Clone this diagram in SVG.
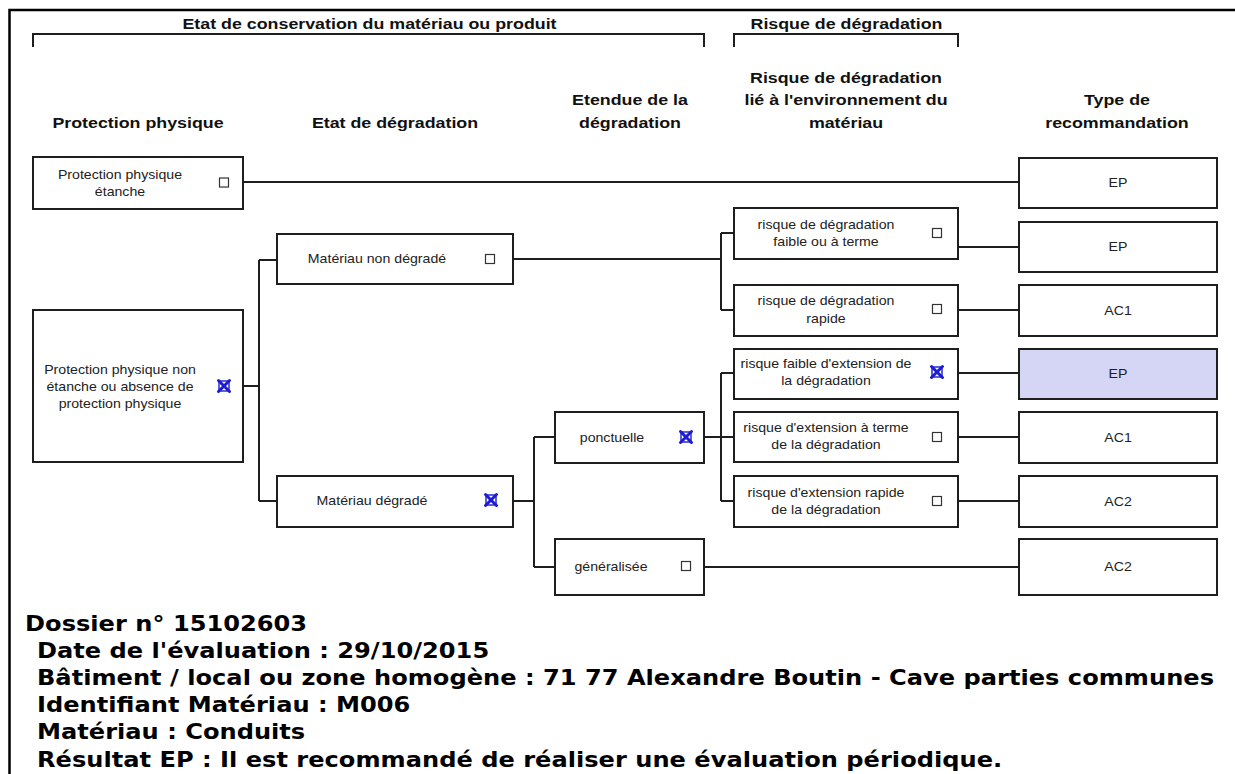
<svg xmlns="http://www.w3.org/2000/svg" width="1235" height="774" viewBox="0 0 1235 774">
<style>
.box{fill:#fff;stroke:#1e1e1e;stroke-width:2}
.sel{fill:#d5d5f6;stroke:#1e1e1e;stroke-width:2}
.ln{fill:none;stroke:#1e1e1e;stroke-width:2}
.frame{fill:none;stroke:#000;stroke-width:2.5}
.h{font-family:"Liberation Sans",Arial,sans-serif;font-weight:bold;font-size:15.5px;fill:#111;text-anchor:middle}
.t{font-family:"Liberation Sans",Arial,sans-serif;font-size:12.3px;fill:#222;text-anchor:middle}
.f{font-family:"DejaVu Sans",Verdana,sans-serif;font-weight:bold;font-size:21px;fill:#000}
.cb{fill:#fff;stroke:#333;stroke-width:1.2}
.xb{fill:none;stroke:#1c1cd0;stroke-width:1.4}
.xx{fill:none;stroke:#1c1cd0;stroke-width:3;stroke-linecap:round}
</style>
<defs>
<g id="chk"><rect class="cb" x="-4.5" y="-4.5" width="9" height="9"/></g>
<g id="xck"><rect class="xb" x="-5" y="-5" width="10" height="10"/><path class="xx" d="M-5.5,-5.5 L5.5,5.5 M5.5,-5.5 L-5.5,5.5"/></g>
</defs>

<g id="frame">
<path class="frame" d="M9.5,774 V10 H1235"/>
<path class="ln" d="M33,47 V34 H704 V47"/>
<path class="ln" d="M734,47 V34 H958 V47"/>
</g>

<g id="headers">
<text class="h" transform="matrix(1.15 0 0 1 369.5 0)" x="0" y="29">Etat de conservation du matériau ou produit</text>
<text class="h" transform="matrix(1.15 0 0 1 846.5 0)" x="0" y="29">Risque de dégradation</text>
<text class="h" transform="matrix(1.15 0 0 1 138 0)" x="0" y="128">Protection physique</text>
<text class="h" transform="matrix(1.15 0 0 1 395 0)" x="0" y="128">Etat de dégradation</text>
<text class="h" transform="matrix(1.15 0 0 1 630 0)" x="0" y="105">Etendue de la</text>
<text class="h" transform="matrix(1.15 0 0 1 630 0)" x="0" y="128">dégradation</text>
<text class="h" transform="matrix(1.15 0 0 1 846 0)" x="0" y="83">Risque de dégradation</text>
<text class="h" transform="matrix(1.15 0 0 1 846 0)" x="0" y="105">lié à l'environnement du</text>
<text class="h" transform="matrix(1.15 0 0 1 846 0)" x="0" y="128">matériau</text>
<text class="h" transform="matrix(1.15 0 0 1 1117 0)" x="0" y="105">Type de</text>
<text class="h" transform="matrix(1.15 0 0 1 1117 0)" x="0" y="128">recommandation</text>
</g>

<g id="connectors">
<path class="ln" d="M243,182 H1019"/>
<path class="ln" d="M243,386 H259 M259,260 V501 M259,260 H277 M259,501 H277"/>
<path class="ln" d="M513,259 H721 M721,233 V310 M721,233 H734 M721,310 H734"/>
<path class="ln" d="M958,247 H1019 M958,310 H1019 M958,373 H1019 M958,437 H1019 M958,501 H1019"/>
<path class="ln" d="M513,501 H534 M534,437 V567 M534,437 H555 M534,567 H555"/>
<path class="ln" d="M704,437 H721 M721,373 V501 M721,373 H734 M721,437 H734 M721,501 H734"/>
<path class="ln" d="M704,567 H1019"/>
</g>

<g id="n-pp-etanche">
<rect class="box" x="33" y="157" width="210" height="52"/>
<text class="t" transform="matrix(1.15 0 0 1 120 0)" x="0" y="179">Protection physique</text>
<text class="t" transform="matrix(1.15 0 0 1 120 0)" x="0" y="196">étanche</text>
<use href="#chk" x="224" y="182.5"/>
</g>

<g id="n-pp-non-etanche">
<rect class="box" x="33" y="310" width="210" height="152"/>
<text class="t" transform="matrix(1.15 0 0 1 120 0)" x="0" y="374">Protection physique non</text>
<text class="t" transform="matrix(1.15 0 0 1 120 0)" x="0" y="391">étanche ou absence de</text>
<text class="t" transform="matrix(1.15 0 0 1 120 0)" x="0" y="408">protection physique</text>
<use href="#xck" x="224" y="386"/>
</g>

<g id="n-non-degrade">
<rect class="box" x="277" y="234" width="236" height="50"/>
<text class="t" transform="matrix(1.15 0 0 1 377 0)" x="0" y="263">Matériau non dégradé</text>
<use href="#chk" x="490" y="259"/>
</g>

<g id="n-degrade">
<rect class="box" x="277" y="476" width="236" height="51"/>
<text class="t" transform="matrix(1.15 0 0 1 372 0)" x="0" y="505">Matériau dégradé</text>
<use href="#xck" x="491" y="500"/>
</g>

<g id="n-ponctuelle">
<rect class="box" x="555" y="412" width="149" height="51"/>
<text class="t" transform="matrix(1.15 0 0 1 612 0)" x="0" y="442">ponctuelle</text>
<use href="#xck" x="686" y="437"/>
</g>

<g id="n-generalisee">
<rect class="box" x="555" y="539" width="149" height="56"/>
<text class="t" transform="matrix(1.15 0 0 1 611 0)" x="0" y="571">généralisée</text>
<use href="#chk" x="686" y="566"/>
</g>

<g id="n-risque-faible">
<rect class="box" x="734" y="208" width="224" height="51"/>
<text class="t" transform="matrix(1.15 0 0 1 826 0)" x="0" y="229">risque de dégradation</text>
<text class="t" transform="matrix(1.15 0 0 1 826 0)" x="0" y="246">faible ou à terme</text>
<use href="#chk" x="937" y="233"/>
</g>

<g id="n-risque-rapide">
<rect class="box" x="734" y="285" width="224" height="51"/>
<text class="t" transform="matrix(1.15 0 0 1 826 0)" x="0" y="305">risque de dégradation</text>
<text class="t" transform="matrix(1.15 0 0 1 826 0)" x="0" y="323">rapide</text>
<use href="#chk" x="937" y="309"/>
</g>

<g id="n-ext-faible">
<rect class="box" x="734" y="349" width="224" height="50"/>
<text class="t" transform="matrix(1.15 0 0 1 826 0)" x="0" y="368">risque faible d'extension de</text>
<text class="t" transform="matrix(1.15 0 0 1 826 0)" x="0" y="385">la dégradation</text>
<use href="#xck" x="937" y="372"/>
</g>

<g id="n-ext-terme">
<rect class="box" x="734" y="412" width="224" height="50"/>
<text class="t" transform="matrix(1.15 0 0 1 826 0)" x="0" y="432">risque d'extension à terme</text>
<text class="t" transform="matrix(1.15 0 0 1 826 0)" x="0" y="449">de la dégradation</text>
<use href="#chk" x="937" y="437"/>
</g>

<g id="n-ext-rapide">
<rect class="box" x="734" y="476" width="224" height="51"/>
<text class="t" transform="matrix(1.15 0 0 1 826 0)" x="0" y="497">risque d'extension rapide</text>
<text class="t" transform="matrix(1.15 0 0 1 826 0)" x="0" y="514">de la dégradation</text>
<use href="#chk" x="937" y="501"/>
</g>

<g id="r-ep1">
<rect class="box" x="1019" y="158" width="198" height="50"/>
<text class="t" transform="matrix(1.15 0 0 1 1118 0)" x="0" y="187.5">EP</text>
</g>
<g id="r-ep2">
<rect class="box" x="1019" y="222" width="198" height="50"/>
<text class="t" transform="matrix(1.15 0 0 1 1118 0)" x="0" y="251.5">EP</text>
</g>
<g id="r-ac1a">
<rect class="box" x="1019" y="285" width="198" height="51"/>
<text class="t" transform="matrix(1.15 0 0 1 1118 0)" x="0" y="315">AC1</text>
</g>
<g id="r-ep3">
<rect class="sel" x="1019" y="349" width="198" height="50"/>
<text class="t" transform="matrix(1.15 0 0 1 1118 0)" x="0" y="378.5">EP</text>
</g>
<g id="r-ac1b">
<rect class="box" x="1019" y="412" width="198" height="51"/>
<text class="t" transform="matrix(1.15 0 0 1 1118 0)" x="0" y="442">AC1</text>
</g>
<g id="r-ac2a">
<rect class="box" x="1019" y="476" width="198" height="51"/>
<text class="t" transform="matrix(1.15 0 0 1 1118 0)" x="0" y="506">AC2</text>
</g>
<g id="r-ac2b">
<rect class="box" x="1019" y="539" width="198" height="56"/>
<text class="t" transform="matrix(1.15 0 0 1 1118 0)" x="0" y="571.5">AC2</text>
</g>

<g id="footer" transform="scale(1.149 1)">
<text class="f" x="21.8" y="631">Dossier n° 15102603</text>
<text class="f" x="32.2" y="658.5">Date de l'évaluation : 29/10/2015</text>
<text class="f" x="32.2" y="685.5">Bâtiment / local ou zone homogène : 71 77 Alexandre Boutin - Cave parties communes</text>
<text class="f" x="32.2" y="712">Identifiant Matériau : M006</text>
<text class="f" x="32.2" y="739">Matériau : Conduits</text>
<text class="f" x="32.2" y="767">Résultat EP : Il est recommandé de réaliser une évaluation périodique.</text>
</g>
</svg>
